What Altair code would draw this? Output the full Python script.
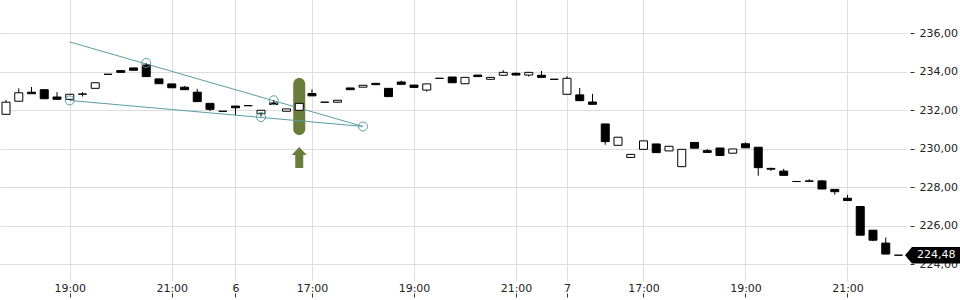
import altair as alt
import pandas as pd

opens = [231.80, 232.48, 232.95, 233.08, 232.70, 232.58, 232.84, 233.15, 233.88, 234.07,
         234.21, 234.36, 233.64, 233.38, 233.21, 232.95, 232.37, 231.96, 232.23, 232.25,
         231.83, 232.39, 231.96, 232.01, 232.88, 232.43, 232.43, 233.17, 233.21, 233.41,
         233.15, 233.48, 233.32, 233.06, 233.67, 233.74, 233.39, 233.84, 233.62, 233.83,
         233.93, 233.84, 233.83, 233.62, 232.84, 232.81, 232.44, 231.30, 230.19, 229.56,
         229.98, 230.26, 229.90, 229.08, 230.34, 229.91, 230.05, 229.78, 230.27, 230.09,
         228.99, 228.85, 228.31, 228.34, 228.34, 227.90, 227.44, 227.01, 225.78, 225.11,
         224.48]
closes = [232.43, 232.92, 232.87, 232.61, 232.58, 232.84, 232.86, 233.44, 233.88, 233.98,
          234.09, 233.76, 233.39, 233.18, 233.08, 232.46, 232.06, 231.96, 232.14, 232.25,
          232.01, 232.31, 232.08, 232.37, 232.76, 232.43, 232.53, 233.08, 233.31, 233.34,
          232.72, 233.36, 233.20, 233.38, 233.67, 233.44, 233.72, 233.76, 233.72, 233.98,
          233.84, 233.98, 233.72, 233.62, 233.67, 232.51, 232.32, 230.38, 230.61, 229.72,
          230.42, 229.81, 230.14, 229.98, 230.04, 229.82, 229.66, 230.00, 230.06, 229.03,
          228.95, 228.63, 228.31, 228.32, 227.92, 227.78, 227.32, 225.52, 225.26, 224.54,
          224.48]
highs = [232.55, 233.15, 233.22, 233.08, 232.95, 232.84, 232.95, 233.44, 233.88, 234.07,
         234.21, 234.45, 233.64, 233.38, 233.27, 233.12, 232.37, 231.96, 232.23, 232.25,
         232.01, 232.53, 232.08, 232.37, 233.10, 232.43, 232.53, 233.17, 233.31, 233.41,
         233.15, 233.55, 233.32, 233.38, 233.67, 233.74, 233.72, 233.84, 233.72, 234.09,
         233.98, 233.98, 234.05, 233.62, 233.79, 233.17, 232.86, 231.30, 230.61, 229.72,
         230.42, 230.26, 230.14, 229.98, 230.34, 230.00, 230.05, 230.00, 230.35, 230.09,
         229.03, 228.97, 228.31, 228.43, 228.39, 227.90, 227.61, 227.01, 225.78, 225.40,
         224.48]
lows = [231.80, 232.48, 232.87, 232.61, 232.58, 232.58, 232.72, 233.15, 233.88, 233.98,
        234.09, 233.76, 233.39, 233.18, 233.08, 232.46, 231.97, 231.96, 231.77, 232.25,
        231.68, 232.31, 231.96, 232.01, 232.76, 232.43, 232.43, 233.08, 233.21, 233.34,
        232.72, 233.36, 233.20, 232.98, 233.67, 233.44, 233.39, 233.76, 233.62, 233.83,
        233.84, 233.76, 233.72, 233.62, 232.84, 232.51, 232.32, 230.22, 230.19, 229.56,
        229.98, 229.81, 229.90, 229.08, 230.04, 229.82, 229.66, 229.78, 230.06, 228.61,
        228.86, 228.63, 228.31, 228.32, 227.92, 227.62, 227.32, 225.52, 225.21, 224.54,
        224.48]

tick_index = [5, 13, 18, 24, 32, 40, 44, 50, 58, 66]
tick_labels = ["19:00", "21:00", "6", "17:00", "19:00", "21:00", "7", "17:00", "19:00", "21:00"]
y_ticks = [224, 226, 228, 230, 232, 234, 236]

# trend lines (index, value)
line_ids = ["a", "a", "b", "b"]
line_idx = [5, 28, 5, 28]
line_val = [235.56, 231.17, 232.52, 231.17]
circle_idx = [5, 11, 20, 21, 28]
circle_val = [232.52, 234.47, 231.66, 232.53, 231.17]

# highlighted candle
hl_idx = [23]
hl_top = [233.69]
hl_bottom = [230.73]
arrow_val = [229.56]

last_price = [224.48]
last_label = ["224,48"]

df = pd.DataFrame({"idx": list(range(len(opens))), "open": opens, "close": closes,
                   "high": highs, "low": lows})
lines_df = pd.DataFrame({"line": line_ids, "idx": line_idx, "val": line_val})
circ_df = pd.DataFrame({"idx": circle_idx, "val": circle_val})
hl_df = pd.DataFrame({"idx": hl_idx, "top": hl_top, "bottom": hl_bottom, "arrow": arrow_val})
tag_df = pd.DataFrame({"val": last_price, "label": last_label})

FONT = "DejaVu Sans"
W, H = 907, 281

xscale = alt.Scale(domain=[-0.4706, 70.667], nice=False, zero=False, padding=0)
yscale = alt.Scale(domain=[223.14, 237.74], nice=False, zero=False, padding=0)

label_expr = "[" + ",".join("'%s'" % t for t in tick_labels) + "][indexof([" + \
    ",".join(str(i) for i in tick_index) + "], datum.value)]"

xaxis = alt.Axis(values=tick_index, labelExpr=label_expr, grid=True, gridColor="#dddddd",
                 domain=False, tickSize=4, tickColor="#333333", offset=12, labelPadding=-15,
                 labelFont=FONT, labelFontSize=11, labelColor="#222222", title=None,
                 labelFlush=False, labelOverlap=False)
yaxis = alt.Axis(orient="right", values=y_ticks, grid=True, gridColor="#dddddd", domain=False,
                 tickSize=4, tickColor="#333333", offset=3, labelPadding=5,
                 labelExpr="replace(format(datum.value, '.2f'), '.', ',')",
                 labelFont=FONT, labelFontSize=11, labelColor="#222222", title=None)


def X(field):
    return alt.X(field, type="quantitative", scale=xscale, axis=xaxis)


def Y(field):
    return alt.Y(field, type="quantitative", scale=yscale, axis=yaxis)


green = "#6b7d3b"
teal = "#5a9ea6"

highlight = alt.Chart(hl_df).mark_bar(size=12, cornerRadius=6, color=green).encode(
    x=X("idx"), y=Y("top"), y2="bottom")

arrow_path = "M0,-1 L0.72,-0.24 L0.38,-0.24 L0.38,1 L-0.38,1 L-0.38,-0.24 L-0.72,-0.24 Z"
arrow = alt.Chart(hl_df).mark_point(shape=arrow_path, filled=True, size=441, color=green,
                                    opacity=1).encode(x=X("idx"), y=Y("arrow"))

lines = alt.Chart(lines_df).mark_line(color=teal, strokeWidth=1).encode(
    x=X("idx"), y=Y("val"), detail="line:N")

wicks = alt.Chart(df).mark_rule(color="black", strokeWidth=1).encode(
    x=X("idx"), y=Y("low"), y2="high")

bodies = alt.Chart(df).mark_bar(size=8, stroke="black", strokeWidth=1).encode(
    x=X("idx"), y=Y("open"), y2="close",
    fill=alt.condition("datum.close > datum.open", alt.value("white"), alt.value("black")))

circles = alt.Chart(circ_df).mark_point(shape="circle", size=81, color=teal, filled=False,
                                        strokeWidth=1, opacity=1).encode(x=X("idx"), y=Y("val"))

tag_path = "M-1,0 L-0.745,-0.3 L1,-0.3 L1,0.3 L-0.745,0.3 Z"
tag = alt.Chart(tag_df).mark_point(shape=tag_path, filled=True, size=3025, color="black",
                                   opacity=1, clip=False).encode(x=alt.value(W + 25.5), y=Y("val"))
tag_text = alt.Chart(tag_df).mark_text(align="left", baseline="middle", color="white",
                                       font=FONT, fontSize=11, clip=False).encode(
    x=alt.value(W + 10), y=Y("val"), text="label:N")

chart = alt.layer(highlight, arrow, lines, wicks, bodies, circles, tag, tag_text).properties(
    width=W, height=H, padding={"left": 0, "top": 0, "right": 0, "bottom": 0},
    background="white"
).configure_view(stroke=None)

chart.save("out.html", embed_options={"renderer": "svg", "actions": False})
